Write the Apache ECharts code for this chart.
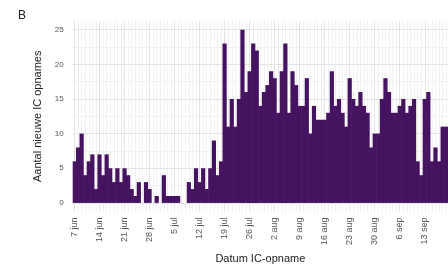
<!DOCTYPE html>
<html>
<head>
<meta charset="utf-8">
<script src="https://cdn.jsdelivr.net/npm/echarts@6/dist/echarts.min.js"></script>
<style>
  html, body { margin: 0; padding: 0; background: #fff; }
  #chart { width: 448px; height: 269px; }
</style>
</head>
<body>
<div id="chart"></div>
<script>
// dagen 7 jun t/m 19 sep
const months = [['jun', 7, 30], ['jul', 1, 31], ['aug', 1, 31], ['sep', 1, 19]];
const categories = [];
months.forEach(function (m) {
  for (let d = m[1]; d <= m[2]; d++) categories.push(d + ' ' + m[0]);
});

// nieuwe IC-opnames per dag
const junValues = [6, 8, 10, 4, 6, 7, 2, 7, 4, 7, 5, 3, 5, 3, 5, 4, 2, 1, 3, 0, 3, 2, 0, 1];
const julValues = [0, 4, 1, 1, 1, 1, 0, 0, 3, 2, 5, 3, 5, 2, 5, 9, 4, 6, 23, 11, 15, 11, 15, 25, 16, 19, 23, 22, 14, 16, 17];
const augValues = [19, 18, 13, 19, 23, 13, 19, 17, 14, 14, 18, 10, 14, 12, 12, 12, 13, 19, 14, 15, 13, 11, 18, 15, 14, 16, 14, 13, 8, 10, 10];
const sepValues = [15, 18, 16, 13, 13, 14, 15, 13, 14, 15, 6, 4, 15, 16, 6, 8, 6, 11, 11];
const admissions = junValues.concat(julValues, augValues, sepValues);

const yTicks = [0, 5, 10, 15, 20, 25];
const yMinorTicks = [2.5, 7.5, 12.5, 17.5, 22.5];

const chart = echarts.init(document.getElementById('chart'));

// rasterlijnen zoals ggplot (achter de staven)
const gridLines = [];
categories.forEach(function (c, i) {
  gridLines.push({ xAxis: i, lineStyle: { color: i % 7 === 0 ? '#e4e4e4' : '#f1f1f1' } });
});
yMinorTicks.forEach(function (v) {
  gridLines.push({ yAxis: v, lineStyle: { color: '#f1f1f1' } });
});
yTicks.forEach(function (v) {
  gridLines.push({ yAxis: v, lineStyle: { color: '#e4e4e4' } });
});

chart.setOption({
  animation: false,
  backgroundColor: '#fff',
  textStyle: { fontFamily: 'Liberation Sans' },
  graphic: [{
    type: 'text', left: 18, top: 10,
    style: { text: 'B', fontSize: 12, fill: '#222', fontFamily: 'Liberation Sans' }
  }],
  grid: { left: 72.7, right: -2.7, top: 21, bottom: 50 },
  xAxis: {
    type: 'category',
    data: categories,
    name: 'Datum IC-opname',
    nameLocation: 'middle',
    nameGap: 37,
    nameTextStyle: { fontSize: 11, color: '#222' },
    axisLine: { show: false },
    axisTick: { show: false },
    splitLine: { show: false },
    axisLabel: { interval: 6, rotate: 90, fontSize: 9, color: '#555', margin: 6 }
  },
  yAxis: {
    type: 'value',
    min: -1.25,
    max: 26.25,
    name: 'Aantal nieuwe IC opnames',
    nameLocation: 'middle',
    nameRotate: 90,
    nameGap: 28,
    nameTextStyle: { fontSize: 11, color: '#222' },
    axisLine: { show: false },
    axisTick: { show: false },
    splitLine: { show: false },
    axisLabel: { customValues: yTicks, fontSize: 8, color: '#555', margin: 9 }
  },
  series: [
    {
      type: 'line',
      data: categories.map(function () { return null; }),
      showSymbol: false,
      silent: true,
      z: 0,
      markLine: {
        z: 0,
        silent: true,
        symbol: 'none',
        label: { show: false },
        lineStyle: { type: 'solid', width: 1 },
        data: gridLines
      }
    },
    {
      type: 'bar',
      data: admissions,
      barWidth: 4.2,
      z: 3,
      itemStyle: { color: '#45135f' }
    }
  ]
});
</script>
</body>
</html>
